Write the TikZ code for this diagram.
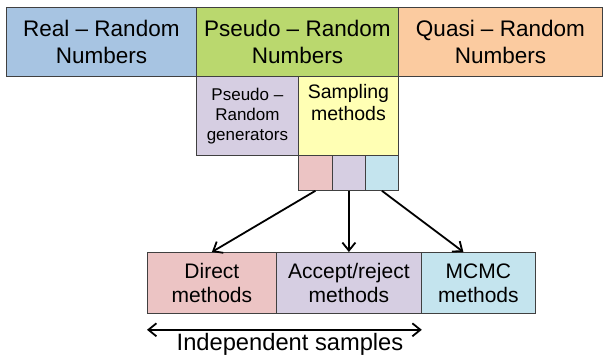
\documentclass[tikz,border=0pt]{standalone}
\usepackage{fontspec}
\setmainfont{Liberation Sans}
\usetikzlibrary{arrows.meta,positioning}

\definecolor{realblue}{RGB}{167,196,226}
\definecolor{pseudogreen}{RGB}{186,216,110}
\definecolor{quasiorange}{RGB}{251,203,160}
\definecolor{genpurple}{RGB}{214,206,226}
\definecolor{samplyellow}{RGB}{255,255,180}
\definecolor{directpink}{RGB}{236,196,196}
\definecolor{mcmccyan}{RGB}{196,228,238}

\begin{document}
\begin{tikzpicture}[
  x=1pt, y=-1pt,
  cell/.style={draw=black!75, line width=0.8pt, align=center, inner sep=0pt, anchor=north west},
  toptxt/.style={font=\fontsize{22.5}{26.5}\selectfont},
  bigtxt/.style={font=\fontsize{21}{24}\selectfont},
  midtxt/.style={font=\fontsize{17}{20}\selectfont},
  link/.style={-{Straight Barb[length=8pt,width=13pt]}, line width=1.8pt}
]
\useasboundingbox (0,0) rectangle (604,355);

% ================= top row =================
\node[cell, toptxt, fill=realblue, minimum width=190pt, minimum height=69pt] (real) at (6,7) {Real – Random\\Numbers};
\node[cell, toptxt, fill=pseudogreen, minimum width=202pt, minimum height=69pt] (pseudo) at (196,7) {Pseudo – Random\\Numbers};
\node[cell, toptxt, fill=quasiorange, minimum width=204pt, minimum height=69pt] (quasi) at (398,7) {Quasi – Random\\Numbers};

% ================= pseudo-random split =================
\node[cell, midtxt, fill=genpurple, minimum width=102pt, minimum height=79pt] (gen) at (196,76) {Pseudo –\\Random\\generators};
\node[cell, fill=samplyellow, minimum width=100pt, minimum height=79pt] (sampl) at (298,76) {};
\node[font=\fontsize{19.5}{21.5}\selectfont, align=center, anchor=north] (sampltxt) at (sampl.north) [yshift=-5pt] {Sampling\\methods};

\node[cell, fill=directpink, minimum width=34pt, minimum height=35pt] (s1) at (298,155) {};
\node[cell, fill=genpurple, minimum width=33pt, minimum height=35pt] (s2) at (332,155) {};
\node[cell, fill=mcmccyan, minimum width=33pt, minimum height=35pt] (s3) at (365,155) {};

% ================= sampling methods =================
\node[cell, bigtxt, fill=directpink, minimum width=129pt, minimum height=61pt] (direct) at (147,252) {Direct\\methods};
\node[cell, bigtxt, fill=genpurple, minimum width=145pt, minimum height=61pt] (accept) at (276,252) {Accept/reject\\methods};
\node[cell, bigtxt, fill=mcmccyan, minimum width=114pt, minimum height=61pt] (mcmc) at (421,252) {MCMC\\methods};

\draw[link] (s1.south) -- (direct.north);
\draw[link] (s2.south) -- (accept.north);
\draw[link] (s3.south) -- ([xshift=-15pt]mcmc.north);

% independent samples span
\draw[{Straight Barb[length=8pt,width=13pt]}-{Straight Barb[length=8pt,width=13pt]}, line width=1.8pt]
  ([yshift=-16pt]direct.south west) -- ([yshift=-16pt]accept.south east);
\node[font=\fontsize{23.7}{26}\selectfont, anchor=base] (indep) at (290,350) {Independent samples};

\end{tikzpicture}
\end{document}
